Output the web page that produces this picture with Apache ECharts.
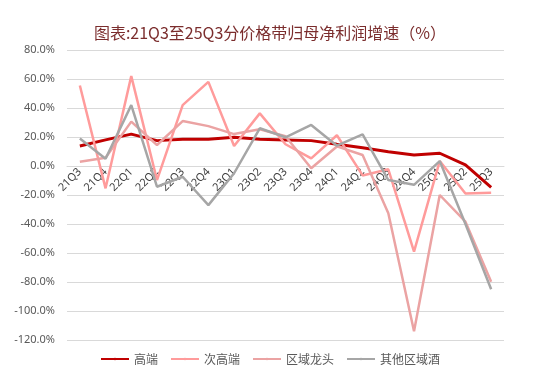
<!DOCTYPE html>
<html>
<head>
<meta charset="utf-8">
<script src="https://cdn.jsdelivr.net/npm/echarts@6/dist/echarts.min.js"></script>
<style>
html,body{margin:0;padding:0;background:#fff;}
#main{width:540px;height:377px;}
</style>
</head>
<body>
<div id="main"></div>
<script>
//季度
let quarters = ['21Q3','21Q4','22Q1','22Q2','22Q3','22Q4','23Q1','23Q2','23Q3','23Q4','24Q1','24Q2','24Q3','24Q4','25Q1','25Q2','25Q3'];
//各价格带增速(%)
let gaoduan = [13.8, 18, 22, 17.5, 18.4, 18.5, 19.8, 18.4, 18, 17.5, 15, 12.6, 9.9, 7.6, 8.8, 0.7, -14.7];
let cigaoduan = [55.5, -15.4, 62, -9.7, 42, 58, 13.8, 36.3, 15, 5.3, 21.2, -6.5, -2.3, -59, 3.4, -18.9, -18.4];
let quyulongtou = [3, 5.7, 30.6, 14.5, 31, 27.5, 22, 25.3, 20.5, -1.6, 13.5, 7.6, -32.6, -114, -20, -38.4, -79.8];
let qita = [19, 5, 42, -14.3, -7.4, -27, -5, 26, 19.8, 28.3, 14, 21.8, -9.7, -13, 3.4, -40, -85];

let names = ['高端', '次高端', '区域龙头', '其他区域酒'];
let colors = ['#C00000', '#FF9B9B', '#EBA3A3', '#A6A6A6'];
let widths = [3, 2.5, 2.5, 2.5];
let values = [gaoduan, cigaoduan, quyulongtou, qita];

let chart = echarts.init(document.getElementById('main'));
let series = [];
for (let i = 0; i < values.length; i++) {
    series.push({
        name: names[i],
        type: 'line',
        symbol: 'none',
        data: values[i],
        z: 3 + i,
        lineStyle: {color: colors[i], width: widths[i]},
        itemStyle: {color: colors[i]}
    });
}

let option = {
    backgroundColor: '#fff',
    animation: false,
    title: {
        text: '图表:21Q3至25Q3分价格带归母净利润增速（%）',
        left: 'center',
        top: 20,
        textStyle: {
            color: '#7B2D2D',
            fontSize: 16,
            fontWeight: 'normal',
            fontFamily: 'Noto Sans CJK SC'
        }
    },
    legend: {
        bottom: 7,
        left: 'center',
        itemWidth: 28,
        itemHeight: 3,
        itemGap: 12,
        data: names,
        textStyle: {color: '#595959', fontSize: 12, fontFamily: 'Noto Sans CJK SC'}
    },
    grid: {left: 67, right: 36, top: 50, bottom: 37},
    xAxis: {
        type: 'category',
        data: quarters,
        boundaryGap: true,
        offset: -174,   //标签放在0线处
        axisLine: {onZero: false, lineStyle: {color: '#D9D9D9'}},
        axisTick: {show: false},
        axisLabel: {
            rotate: 45,
            color: '#404040',
            fontSize: 11,
            margin: 4,
            interval: 0,
            fontFamily: 'Noto Sans'
        }
    },
    yAxis: {
        type: 'value',
        min: -120,
        max: 80,
        interval: 20,
        axisLine: {show: false},
        axisTick: {show: false},
        splitLine: {lineStyle: {color: '#D9D9D9', width: 1}},
        axisLabel: {
            color: '#595959',
            fontSize: 11,
            margin: 12,
            fontFamily: 'Noto Sans',
            formatter: function (v) { return v.toFixed(1) + '%'; }
        }
    },
    series: series
};
chart.setOption(option);
</script>
</body>
</html>
